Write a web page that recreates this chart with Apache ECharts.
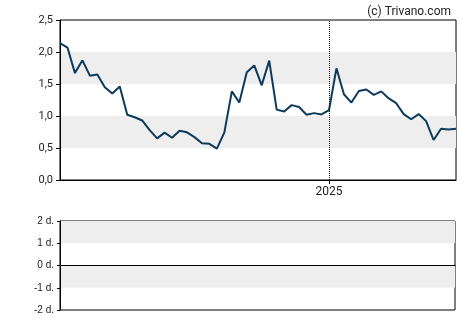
<!DOCTYPE html>
<html>
<head>
<meta charset="utf-8">
<script src="https://cdn.jsdelivr.net/npm/echarts@6/dist/echarts.min.js"></script>
<style>
html,body{margin:0;padding:0;background:#fff;}
#c{width:470px;height:325px;}
</style>
</head>
<body>
<div id="c"></div>
<script>
var dates = [
 '2024-04-24','2024-05-01','2024-05-08','2024-05-15','2024-05-22','2024-05-29',
 '2024-06-05','2024-06-12','2024-06-19','2024-06-26','2024-07-03','2024-07-10',
 '2024-07-17','2024-07-24','2024-07-31','2024-08-07','2024-08-14','2024-08-21',
 '2024-08-28','2024-09-04','2024-09-11','2024-09-18','2024-09-25','2024-10-02',
 '2024-10-09','2024-10-16','2024-10-23','2024-10-30','2024-11-06','2024-11-13',
 '2024-11-20','2024-11-27','2024-12-04','2024-12-11','2024-12-18','2024-12-25',
 '2025-01-01','2025-01-08','2025-01-15','2025-01-22','2025-01-29','2025-02-05',
 '2025-02-12','2025-02-19','2025-02-26','2025-03-05','2025-03-12','2025-03-19',
 '2025-03-26','2025-04-02','2025-04-09','2025-04-16','2025-04-23','2025-04-30'
];
var prices = [
 2.14, 2.07, 1.67, 1.87, 1.63, 1.65, 1.45, 1.35, 1.46, 1.02, 0.98, 0.93,
 0.78, 0.65, 0.74, 0.66, 0.77, 0.745, 0.67, 0.575, 0.565, 0.49, 0.745, 1.385,
 1.21, 1.685, 1.79, 1.48, 1.865, 1.10, 1.07, 1.17, 1.14, 1.02, 1.045, 1.025,
 1.09, 1.745, 1.34, 1.21, 1.39, 1.415, 1.33, 1.385, 1.275, 1.20, 1.03, 0.95,
 1.03, 0.92, 0.625, 0.80, 0.79, 0.80
];
var yearMarker = '2025-01-01';
var yearLabel = '2025';
var priceTicks = [0, 2.5, 0.5];
var lowerTicks = [-2, 2, 1];
var lowerSuffix = ' d.';
var credit = '(c) Trivano.com';

var chart = echarts.init(document.getElementById('c'), null, {renderer:'canvas'});
var isYear = function (i, v) { return v === yearMarker; };
chart.setOption({
  animation: false,
  backgroundColor: '#fff',
  title: {
    text: credit, right: 14, top: 1,
    textStyle: {fontFamily: 'Roboto', fontSize: 12, fontWeight: 'normal', color: '#222'}
  },
  grid: [
    {left: 60, top: 20, width: 396, height: 160, show: true, borderColor: '#000', borderWidth: 1, backgroundColor: 'transparent'},
    {left: 60, top: 221, width: 395, height: 89, show: true, borderColor: '#000', borderWidth: 1, backgroundColor: 'transparent'}
  ],
  xAxis: [
    {
      gridIndex: 0, type: 'category', data: dates, boundaryGap: false,
      axisLine: {show: true, lineStyle: {color: '#000', width: 1}},
      axisTick: {show: true, interval: isYear, length: 4, lineStyle: {color: '#000'}},
      axisLabel: {show: true, interval: isYear, formatter: function (v) { return v === yearMarker ? yearLabel : ''; },
        fontFamily: 'Roboto', fontSize: 12, color: '#222', margin: 6},
      splitLine: {show: false}
    },
    {
      gridIndex: 1, type: 'category', data: dates, boundaryGap: false,
      axisLine: {show: true, onZero: true, lineStyle: {color: '#000', width: 1}},
      axisTick: {show: false}, axisLabel: {show: false}, splitLine: {show: false}
    }
  ],
  yAxis: [
    {
      gridIndex: 0, type: 'value', min: priceTicks[0], max: priceTicks[1], interval: priceTicks[2],
      axisLine: {show: true, lineStyle: {color: '#000'}},
      axisTick: {show: true, length: 4, lineStyle: {color: '#000'}},
      axisLabel: {formatter: function (v) { return v.toFixed(1).replace('.', ','); },
        fontFamily: 'Roboto', fontSize: 11, color: '#222', margin: 7},
      splitLine: {show: false},
      splitArea: {show: true, areaStyle: {color: ['rgba(255,255,255,0)', '#eeeeee']}}
    },
    {
      gridIndex: 1, type: 'value', min: lowerTicks[0], max: lowerTicks[1], interval: lowerTicks[2],
      axisLine: {show: true, lineStyle: {color: '#000'}},
      axisTick: {show: true, length: 3, lineStyle: {color: '#000'}},
      axisLabel: {formatter: function (v) { return v + lowerSuffix; },
        fontFamily: 'Liberation Sans', fontSize: 10, color: '#222', margin: 6},
      splitLine: {show: false},
      splitArea: {show: true, areaStyle: {color: ['rgba(255,255,255,0)', '#eeeeee']}}
    }
  ],
  series: [
    {
      type: 'line', xAxisIndex: 0, yAxisIndex: 0, data: prices,
      showSymbol: false, symbol: 'none',
      lineStyle: {color: '#0d3a5a', width: 2},
      markLine: {
        silent: true, symbol: 'none', label: {show: false},
        lineStyle: {color: '#000', type: 'dotted', width: 1},
        data: [{xAxis: yearMarker}]
      },
      z: 3
    },
    {
      type: 'line', xAxisIndex: 1, yAxisIndex: 1, data: [], showSymbol: false
    }
  ]
});
</script>
</body>
</html>
